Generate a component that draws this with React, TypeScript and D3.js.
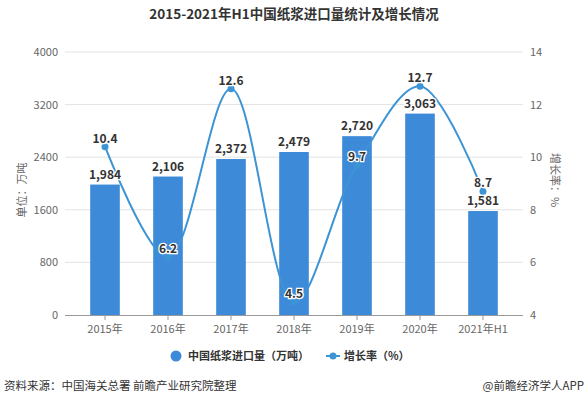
import React from "react";
import * as d3 from "d3";

const categories = ["2015年", "2016年", "2017年", "2018年", "2019年", "2020年", "2021年H1"];
const imports = [1984, 2106, 2372, 2479, 2720, 3063, 1581];
const growth = [10.4, 6.2, 12.6, 4.5, 9.7, 12.7, 8.7];
const leftTicks = [0, 800, 1600, 2400, 3200, 4000];
const rightTicks = [4, 6, 8, 10, 12, 14];

const W = 588;
const H = 399;
const font = "'Noto Sans CJK SC', 'Noto Sans', sans-serif";
const barColor = "#3c8ad8";
const lineColor = "#3d94d4";

export default function App() {
  const x = d3
    .scaleBand()
    .domain(categories)
    .range([65, 523])
    .paddingInner(0.53)
    .paddingOuter(0.4);

  const yLeft = d3.scaleLinear().domain([0, 4000]).range([315, 52]);
  const yRight = d3.scaleLinear().domain([4, 14]).range([315, 52]);

  const cx = (c) => x(c) + x.bandwidth() / 2;

  const line = d3
    .line()
    .x((d, i) => cx(categories[i]))
    .y((d) => yRight(d))
    .curve(d3.curveCatmullRom.alpha(0.5));

  const fmt = d3.format(",");

  return (
    <svg
      width={W}
      height={H}
      style={{ position: "absolute", left: 0, top: 0, background: "#fff" }}
      fontFamily={font}
    >
      <text x={294} y={19} textAnchor="middle" fontSize={13.5} fontWeight="bold" fill="#333">
        2015-2021年H1中国纸浆进口量统计及增长情况
      </text>

      {/* grid + left axis */}
      {leftTicks.map((t) => (
        <g key={"l" + t}>
          {t > 0 && (
            <line x1={65} x2={523} y1={yLeft(t)} y2={yLeft(t)} stroke="#e3e3e3" strokeWidth={1} />
          )}
          <text x={58} y={yLeft(t) + 4} textAnchor="end" fontSize={11} fill="#666">
            {t}
          </text>
        </g>
      ))}
      {rightTicks.map((t) => (
        <text key={"r" + t} x={530} y={yRight(t) + 4} fontSize={11} fill="#666">
          {t}
        </text>
      ))}

      <text
        transform={`translate(26,190) rotate(-90)`}
        textAnchor="middle"
        fontSize={11}
        fill="#666"
      >
        单位：万吨
      </text>
      <text
        transform={`translate(551,180) rotate(90)`}
        textAnchor="middle"
        fontSize={11}
        fill="#666"
      >
        增长率：%
      </text>

      {/* bars */}
      {imports.map((v, i) => (
        <rect
          key={"b" + i}
          x={x(categories[i])}
          y={yLeft(v)}
          width={x.bandwidth()}
          height={yLeft(0) - yLeft(v)}
          fill={barColor}
        />
      ))}

      {/* x axis */}
      <line x1={65} x2={523} y1={315.5} y2={315.5} stroke="#999" />
      {categories.map((c) => (
        <g key={"x" + c}>
          <line x1={cx(c)} x2={cx(c)} y1={315} y2={320} stroke="#999" />
          <text x={cx(c)} y={333} textAnchor="middle" fontSize={11} fill="#666">
            {c}
          </text>
        </g>
      ))}

      {/* line */}
      <path d={line(growth)} fill="none" stroke={lineColor} strokeWidth={2} />
      {growth.map((v, i) => (
        <circle key={"p" + i} cx={cx(categories[i])} cy={yRight(v)} r={3.5} fill={lineColor} />
      ))}

      {/* bar labels */}
      {imports.map((v, i) => (
        <text
          key={"bl" + i}
          x={cx(categories[i])}
          y={yLeft(v) - 6}
          textAnchor="middle"
          fontSize={12}
          fontWeight="bold"
          fill="#333"
          stroke="#fff"
          strokeWidth={2.5}
          paintOrder="stroke"
        >
          {fmt(v)}
        </text>
      ))}
      {/* line labels */}
      {growth.map((v, i) => (
        <text
          key={"gl" + i}
          x={cx(categories[i])}
          y={yRight(v) - 4}
          textAnchor="middle"
          fontSize={12}
          fontWeight="bold"
          fill="#333"
          stroke="#fff"
          strokeWidth={2.5}
          paintOrder="stroke"
        >
          {v}
        </text>
      ))}

      {/* legend */}
      <circle cx={176} cy={356} r={5.5} fill={barColor} />
      <text x={188} y={360} fontSize={11} fontWeight="bold" fill="#333">
        中国纸浆进口量（万吨）
      </text>
      <line x1={326} x2={340} y1={356} y2={356} stroke={lineColor} strokeWidth={2} />
      <circle cx={333} cy={356} r={3.5} fill={lineColor} />
      <text x={344} y={360} fontSize={11} fontWeight="bold" fill="#333">
        增长率（%）
      </text>

      {/* footer */}
      <text x={4} y={390} fontSize={11.5} fill="#333">
        资料来源：中国海关总署 前瞻产业研究院整理
      </text>
      <text x={584} y={390} textAnchor="end" fontSize={11.5} fill="#333">
        @前瞻经济学人APP
      </text>
    </svg>
  );
}
